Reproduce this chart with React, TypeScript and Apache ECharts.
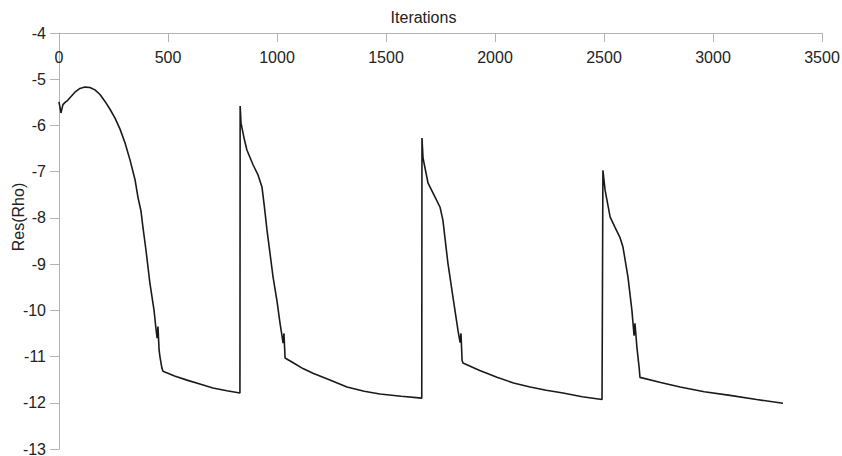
import React, { useEffect, useRef } from "react";
import * as echarts from "echarts";

const iterations: number[] = [
  0, 5, 9, 18, 28, 37, 50, 73, 96, 119, 142, 165, 188, 211, 234, 257, 280, 303, 326, 349,
  362, 376, 385, 399, 417, 436, 445, 450, 454, 459, 463, 472, 477, 530, 587, 650, 706, 770, 830,
  831, 835, 850, 862, 890, 913, 931, 942, 954, 982, 1000, 1014, 1028, 1032, 1037, 1080, 1119,
  1165, 1240, 1321, 1400, 1472, 1570, 1664,
  1665, 1670, 1693, 1720, 1748, 1761, 1784, 1807, 1830, 1840, 1844, 1849, 1853, 1930, 2009, 2085,
  2161, 2235, 2312, 2400, 2491,
  2495, 2505, 2528, 2550, 2573, 2587, 2610, 2628, 2638, 2642, 2651, 2661, 2665, 2760, 2849, 2960,
  3078, 3200, 3321,
];

const resRho: number[] = [
  -5.49, -5.62, -5.73, -5.55, -5.5, -5.47, -5.4, -5.28, -5.2, -5.17, -5.18, -5.23, -5.33, -5.48,
  -5.65, -5.84, -6.08, -6.38, -6.75, -7.18, -7.55, -7.85, -8.2, -8.7, -9.41, -10.0, -10.4, -10.6,
  -10.35, -10.85, -11.0, -11.25, -11.32, -11.42, -11.51, -11.6, -11.68, -11.74, -11.79,
  -5.58, -5.95, -6.3, -6.53, -6.85, -7.07, -7.33, -7.75, -8.26, -9.28, -9.8, -10.28, -10.71,
  -10.5, -11.03, -11.15, -11.26, -11.36, -11.5, -11.66, -11.75, -11.81, -11.86, -11.9,
  -6.27, -6.71, -7.25, -7.5, -7.77, -8.05, -8.98, -9.71, -10.43, -10.7, -10.5, -11.08, -11.14,
  -11.3, -11.45, -11.57, -11.66, -11.73, -11.79, -11.87, -11.93,
  -6.97, -7.4, -7.98, -8.2, -8.42, -8.63, -9.28, -10.0, -10.55, -10.28, -10.8, -11.23, -11.45,
  -11.56, -11.66, -11.76, -11.84, -11.93, -12.01,
];

const xTitle = "Iterations";
const yTitle = "Res(Rho)";

export default function App() {
  const ref = useRef<HTMLDivElement>(null);

  useEffect(() => {
    if (!ref.current) return;
    const chart = echarts.init(ref.current, undefined, { renderer: "svg" });
    const font = "'Liberation Sans', Arial, sans-serif";
    const axisColor = "#b3b3b3";
    const textColor = "#222222";
    chart.setOption({
      animation: false,
      backgroundColor: "#ffffff",
      grid: {
        left: 59,
        right: 20,
        top: 33,
        bottom: 7,
        containLabel: false,
        outerBoundsMode: "none",
      },
      graphic: [
        {
          type: "text",
          x: 18,
          y: 217,
          rotation: Math.PI / 2,
          style: {
            text: yTitle,
            fill: textColor,
            font: `16px ${font}`,
            align: "center",
            verticalAlign: "middle",
          },
        },
      ],
      xAxis: {
        type: "value",
        position: "top",
        min: 0,
        max: 3500,
        interval: 500,
        name: xTitle,
        nameLocation: "middle",
        nameGap: 8,
        nameTextStyle: {
          color: textColor,
          fontFamily: font,
          fontSize: 16,
          verticalAlign: "bottom",
          padding: [0, 34, 0, 0],
        },
        axisLine: { show: true, lineStyle: { color: axisColor, width: 1 } },
        axisTick: { show: true, inside: true, length: 9, lineStyle: { color: axisColor } },
        axisLabel: {
          inside: true,
          margin: 16,
          color: textColor,
          fontFamily: font,
          fontSize: 16,
          formatter: (v: number) => String(v),
        },
        splitLine: { show: false },
      },
      yAxis: {
        type: "value",
        min: -13,
        max: -4,
        interval: 1,
        axisLine: { show: true, lineStyle: { color: axisColor, width: 1 } },
        axisTick: { show: true, inside: false, length: 9, lineStyle: { color: axisColor } },
        axisLabel: {
          margin: 13,
          color: textColor,
          fontFamily: font,
          fontSize: 16,
          formatter: (v: number) => String(v),
        },
        splitLine: { show: false },
      },
      series: [
        {
          type: "line",
          data: iterations.map((it, i) => [it, resRho[i]]),
          showSymbol: false,
          smooth: false,
          lineStyle: { color: "#1a1a1a", width: 1.6 },
        },
      ],
    });
    return () => chart.dispose();
  }, []);

  return (
    <div
      ref={ref}
      style={{ position: "fixed", left: 0, top: 0, width: 842, height: 456, background: "#fff" }}
    />
  );
}
